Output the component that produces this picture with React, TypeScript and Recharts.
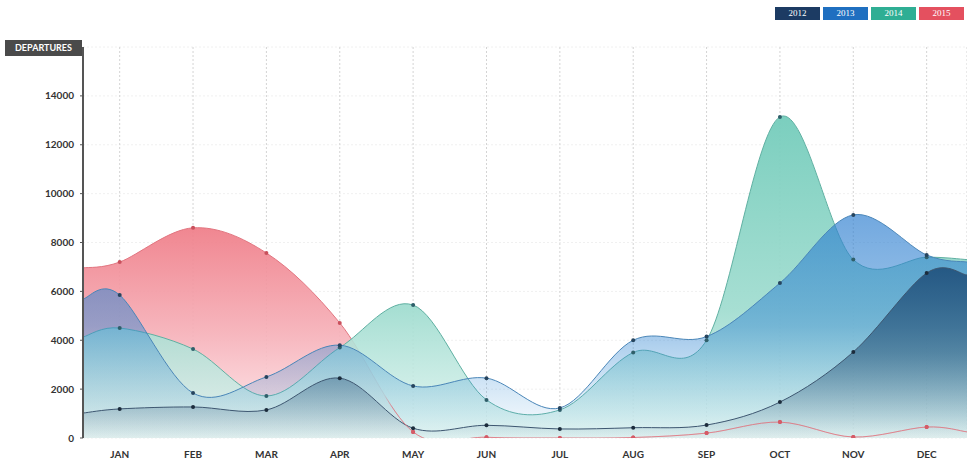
import { Area, AreaChart, CartesianGrid, XAxis, YAxis } from "recharts"

const months = ["JAN", "FEB", "MAR", "APR", "MAY", "JUN", "JUL", "AUG", "SEP", "OCT", "NOV", "DEC"]
// the curves run past Jan and Dec to the plot edges
const xs = [0.5, 1, 2, 3, 4, 5, 6, 7, 8, 9, 10, 11, 12, 12.55]

const years = ["2012", "2013", "2014", "2015"]
const legendColors = ["#1c3b63", "#1f6fc0", "#2fae94", "#e4505f"]

const v2012 = [1020, 1190, 1270, 1150, 2450, 400, 520, 370, 420, 530, 1470, 3520, 6750, 6670]
const v2013 = [5690, 5850, 1840, 2500, 3800, 2130, 2450, 1230, 4000, 4150, 6340, 9130, 7490, 7200]
const v2014 = [4130, 4500, 3640, 1720, 3700, 5440, 1560, 1150, 3500, 4000, 13140, 7300, 7400, 7300]
const v2015 = [6960, 7200, 8600, 7570, 4710, 250, 30, 0, 20, 200, 650, 40, 450, 250]

const yTicks = [0, 2000, 4000, 6000, 8000, 10000, 12000, 14000]

const data = xs.map((x, i) => ({
  x,
  y2012: v2012[i],
  y2013: v2013[i],
  y2014: v2014[i],
  y2015: v2015[i],
}))

// catmull-rom style curve, passes through every point with a little overshoot
function cardinal(context: any) {
  let pts: number[][] = []
  let line = NaN
  return {
    areaStart() {
      line = 0
    },
    areaEnd() {
      line = NaN
    },
    lineStart() {
      pts = []
    },
    lineEnd() {
      const n = pts.length
      if (n) {
        if (line) context.lineTo(pts[0][0], pts[0][1])
        else context.moveTo(pts[0][0], pts[0][1])
        const k = 1 / 6
        for (let i = 0; i < n - 1; i++) {
          const p0 = pts[i - 1] ?? pts[i]
          const p1 = pts[i]
          const p2 = pts[i + 1]
          const p3 = pts[i + 2] ?? p2
          context.bezierCurveTo(
            p1[0] + (p2[0] - p0[0]) * k,
            p1[1] + (p2[1] - p0[1]) * k,
            p2[0] - (p3[0] - p1[0]) * k,
            p2[1] - (p3[1] - p1[1]) * k,
            p2[0],
            p2[1]
          )
        }
      }
      if (line || (line !== 0 && n === 1)) context.closePath()
      line = 1 - line
    },
    point(x: number, y: number) {
      pts.push([+x, +y])
    },
  }
}

function makeDot(fill: string, minY = -Infinity) {
  return (p: any) => {
    if (!Number.isInteger(p.payload?.x) || p.cy < minY) return <g key={`e${p.index}`} />
    return <circle key={`d${p.index}`} cx={p.cx} cy={p.cy} r={2} fill={fill} />
  }
}

const tickStyle = { fill: "#333", fontSize: 10, fontWeight: 700, fontFamily: "Lato, sans-serif" }

export default function App() {
  return (
    <div style={{ position: "absolute", left: 0, top: 0, width: 967, height: 465, background: "#fff" }}>
      <AreaChart width={967} height={465} data={data} margin={{ top: 47, right: 0, bottom: 0, left: 0 }}>
        <defs>
          <linearGradient id="g2015" x1="0" y1="0" x2="0" y2="1">
            <stop offset="0%" stopColor="#ef7c87" />
            <stop offset="50%" stopColor="#f6b1b9" />
            <stop offset="100%" stopColor="#fff0f2" />
          </linearGradient>
          <linearGradient id="l2015" x1="0" y1="0" x2="0" y2="1">
            <stop offset="0%" stopColor="#e27580" stopOpacity={0} />
            <stop offset="78%" stopColor="#e27580" stopOpacity={0} />
            <stop offset="84%" stopColor="#e27580" stopOpacity={0.85} />
            <stop offset="100%" stopColor="#e27580" stopOpacity={0.85} />
          </linearGradient>
          <linearGradient id="g2014" x1="0" y1="0" x2="0" y2="1">
            <stop offset="0%" stopColor="#74ccbb" stopOpacity={0.95} />
            <stop offset="60%" stopColor="#9fdccf" stopOpacity={0.92} />
            <stop offset="100%" stopColor="#e0f4f0" stopOpacity={0.8} />
          </linearGradient>
          <linearGradient id="g2013" x1="0" y1="0" x2="0" y2="1">
            <stop offset="0%" stopColor="#2f7fd0" stopOpacity={0.68} />
            <stop offset="50%" stopColor="#3486d2" stopOpacity={0.48} />
            <stop offset="100%" stopColor="#5aa8e0" stopOpacity={0.03} />
          </linearGradient>
          <linearGradient id="g2012" x1="0" y1="0" x2="0" y2="1">
            <stop offset="0%" stopColor="#225480" stopOpacity={0.95} />
            <stop offset="50%" stopColor="#2d5a7e" stopOpacity={0.6} />
            <stop offset="100%" stopColor="#3a5a78" stopOpacity={0.02} />
          </linearGradient>
        </defs>
        <CartesianGrid vertical={false} stroke="#f0f0f0" strokeDasharray="2 2" />
        <CartesianGrid horizontal={false} stroke="#d4d4d4" strokeDasharray="2 2" />
        <XAxis
          dataKey="x"
          type="number"
          domain={[0.5, 12.55]}
          ticks={[1, 2, 3, 4, 5, 6, 7, 8, 9, 10, 11, 12]}
          tickFormatter={(v) => months[v - 1]}
          tick={{ ...tickStyle, dy: 5 }}
          axisLine={false}
          tickLine={false}
          height={27}
          allowDataOverflow
        />
        <YAxis
          domain={[0, 16000]}
          ticks={yTicks}
          width={83}
          tick={tickStyle}
          axisLine={{ stroke: "#555", strokeWidth: 2 }}
          tickLine={{ stroke: "#555" }}
          tickSize={3}
          tickMargin={6}
          allowDataOverflow
        />
        <Area
          dataKey="y2015"
          type={cardinal as any}
          stroke="#e27580"
          strokeWidth={1}
          fill="url(#g2015)"
          fillOpacity={0.92}
          dot={makeDot("#c9505c")}
          activeDot={false}
          isAnimationActive={false}
        />
        <Area
          dataKey="y2014"
          type={cardinal as any}
          stroke="#5fb0a2"
          strokeWidth={1}
          fill="url(#g2014)"
          fillOpacity={1}
          dot={makeDot("#2f5f6a")}
          activeDot={false}
          isAnimationActive={false}
        />
        <Area
          dataKey="y2013"
          type={cardinal as any}
          stroke="#4a86b8"
          strokeWidth={1}
          fill="url(#g2013)"
          fillOpacity={1}
          dot={makeDot("#26445e")}
          activeDot={false}
          isAnimationActive={false}
        />
        <Area
          dataKey="y2012"
          type={cardinal as any}
          stroke="#3d5670"
          strokeWidth={1}
          fill="url(#g2012)"
          fillOpacity={1}
          dot={makeDot("#1c2c3c")}
          activeDot={false}
          isAnimationActive={false}
        />
        {/* low part of the 2015 line stays visible above the other fills */}
        <Area
          dataKey="y2015"
          type={cardinal as any}
          stroke="url(#l2015)"
          strokeWidth={1}
          fill="none"
          dot={makeDot("#d65a66", 400)}
          activeDot={false}
          legendType="none"
          isAnimationActive={false}
        />
      </AreaChart>
      <div
        style={{
          position: "absolute",
          left: 5,
          top: 40,
          width: 77,
          height: 16,
          background: "#4a4a4a",
          color: "#fff",
          fontFamily: "Lato, sans-serif",
          fontSize: 9,
          fontWeight: 700,
          lineHeight: "16px",
          textAlign: "center",
        }}
      >
        DEPARTURES
      </div>
      <div style={{ position: "absolute", right: 3, top: 7, display: "flex", gap: 3 }}>
        {years.map((y, i) => (
          <div
            key={y}
            style={{
              width: 45,
              height: 13,
              background: legendColors[i],
              color: "#fff",
              fontFamily: "'Liberation Serif', serif",
              fontSize: 9,
              lineHeight: "13px",
              textAlign: "center",
            }}
          >
            {y}
          </div>
        ))}
      </div>
    </div>
  )
}
